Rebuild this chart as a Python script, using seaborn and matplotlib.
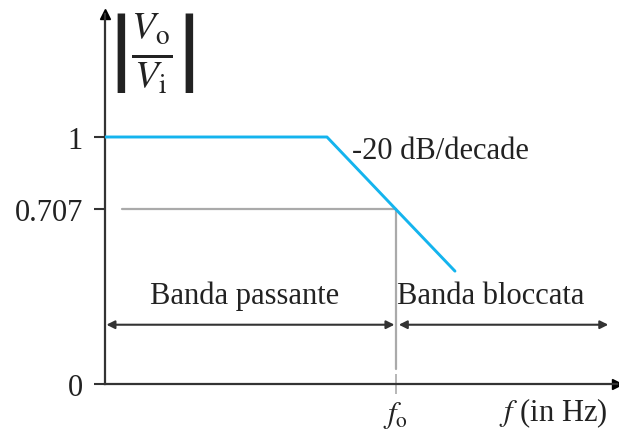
import matplotlib
matplotlib.use('Agg')
import matplotlib.pyplot as plt
import seaborn as sns
import pandas as pd

# Risposta di un filtro passa-basso (asse x normalizzato su f0)
freq = [0.0, 0.763, 1.0, 1.203]
gain = [1.0, 1.0, 0.707, 0.457]
ytick_vals = [0, 0.707, 1]
ytick_labels = ['0', '0.707', '1']
f0 = 1.0
cutoff = 0.707
band_y = 0.24
labels = {'pass': 'Banda passante', 'stop': 'Banda bloccata',
          'slope': '-20 dB/decade', 'xlabel': 'f (in Hz)'}

sns.set_theme(style='white')
plt.rcParams['font.family'] = ['Liberation Serif', 'DejaVu Serif']
plt.rcParams['mathtext.fontset'] = 'stix'

fig = plt.figure(figsize=(6.19, 4.35), dpi=100)
ax = fig.add_axes([105 / 619, 50 / 435, 512 / 619, 370.5 / 435])
ax.set_xlim(0, 1.76)
ax.set_ylim(0, 1.5)

dark = '#333333'
grey = '#aaaaaa'
blue = '#14b4ee'

# linee guida grigie
ax.plot([0.06, f0], [cutoff, cutoff], color=grey, lw=1.6, zorder=1)
ax.plot([f0, f0], [0.06, cutoff], color=grey, lw=1.6, zorder=1)

df = pd.DataFrame({'f': freq, 'g': gain})
sns.lineplot(data=df, x='f', y='g', color=blue, lw=2.1, ax=ax, zorder=3)

# assi con frecce
for s in ['top', 'right']:
    ax.spines[s].set_visible(False)
for s in ['left', 'bottom']:
    ax.spines[s].set_color(dark)
    ax.spines[s].set_linewidth(1.6)
ax.plot(1, 0, '>', color='black', ms=7, transform=ax.transAxes, clip_on=False)
ax.plot(0, 1, '^', color='black', ms=7, transform=ax.transAxes, clip_on=False)

ax.set_yticks(ytick_vals)
ax.set_yticklabels(ytick_labels, fontsize=22, color='#222222')
ax.set_xticks([f0])
ax.set_xticklabels([r'$f_{\mathrm{o}}$'], fontsize=22, color='#222222')
ax.tick_params(axis='y', left=True, direction='out', length=8, width=1.5, color=dark, pad=8)
ax.tick_params(axis='x', bottom=True, direction='inout', length=14, width=1.2, color=grey, pad=4)
ax.set_xlabel('')
ax.set_ylabel('')

# frecce delle bande
arrow = dict(arrowstyle='<|-|>', color=dark, lw=1.5, mutation_scale=12,
             shrinkA=0, shrinkB=0)
ax.annotate('', xy=(0.005, band_y), xytext=(f0 - 0.005, band_y), arrowprops=arrow)
ax.annotate('', xy=(f0 + 0.01, band_y), xytext=(1.73, band_y), arrowprops=arrow)

ax.text(0.481, 0.36, labels['pass'], fontsize=22, ha='center', va='center', color='#222222')
ax.text(1.0 + 0.005, 0.36, labels['stop'], fontsize=22, ha='left', va='center', color='#222222')
ax.text(0.85, 0.945, labels['slope'], fontsize=22, ha='left', va='center', color='#222222')
ax.text(1.355, -0.115, r'$f$' + ' (in Hz)', fontsize=22, ha='left', va='center', color='#222222')

ax.text(0.16, 1.34, r'$\left|\frac{V_{\mathrm{o}}}{V_{\mathrm{i}}}\right|$', fontsize=40,
        ha='center', va='center', color='#222222')

fig.savefig('out.png', dpi=100)
